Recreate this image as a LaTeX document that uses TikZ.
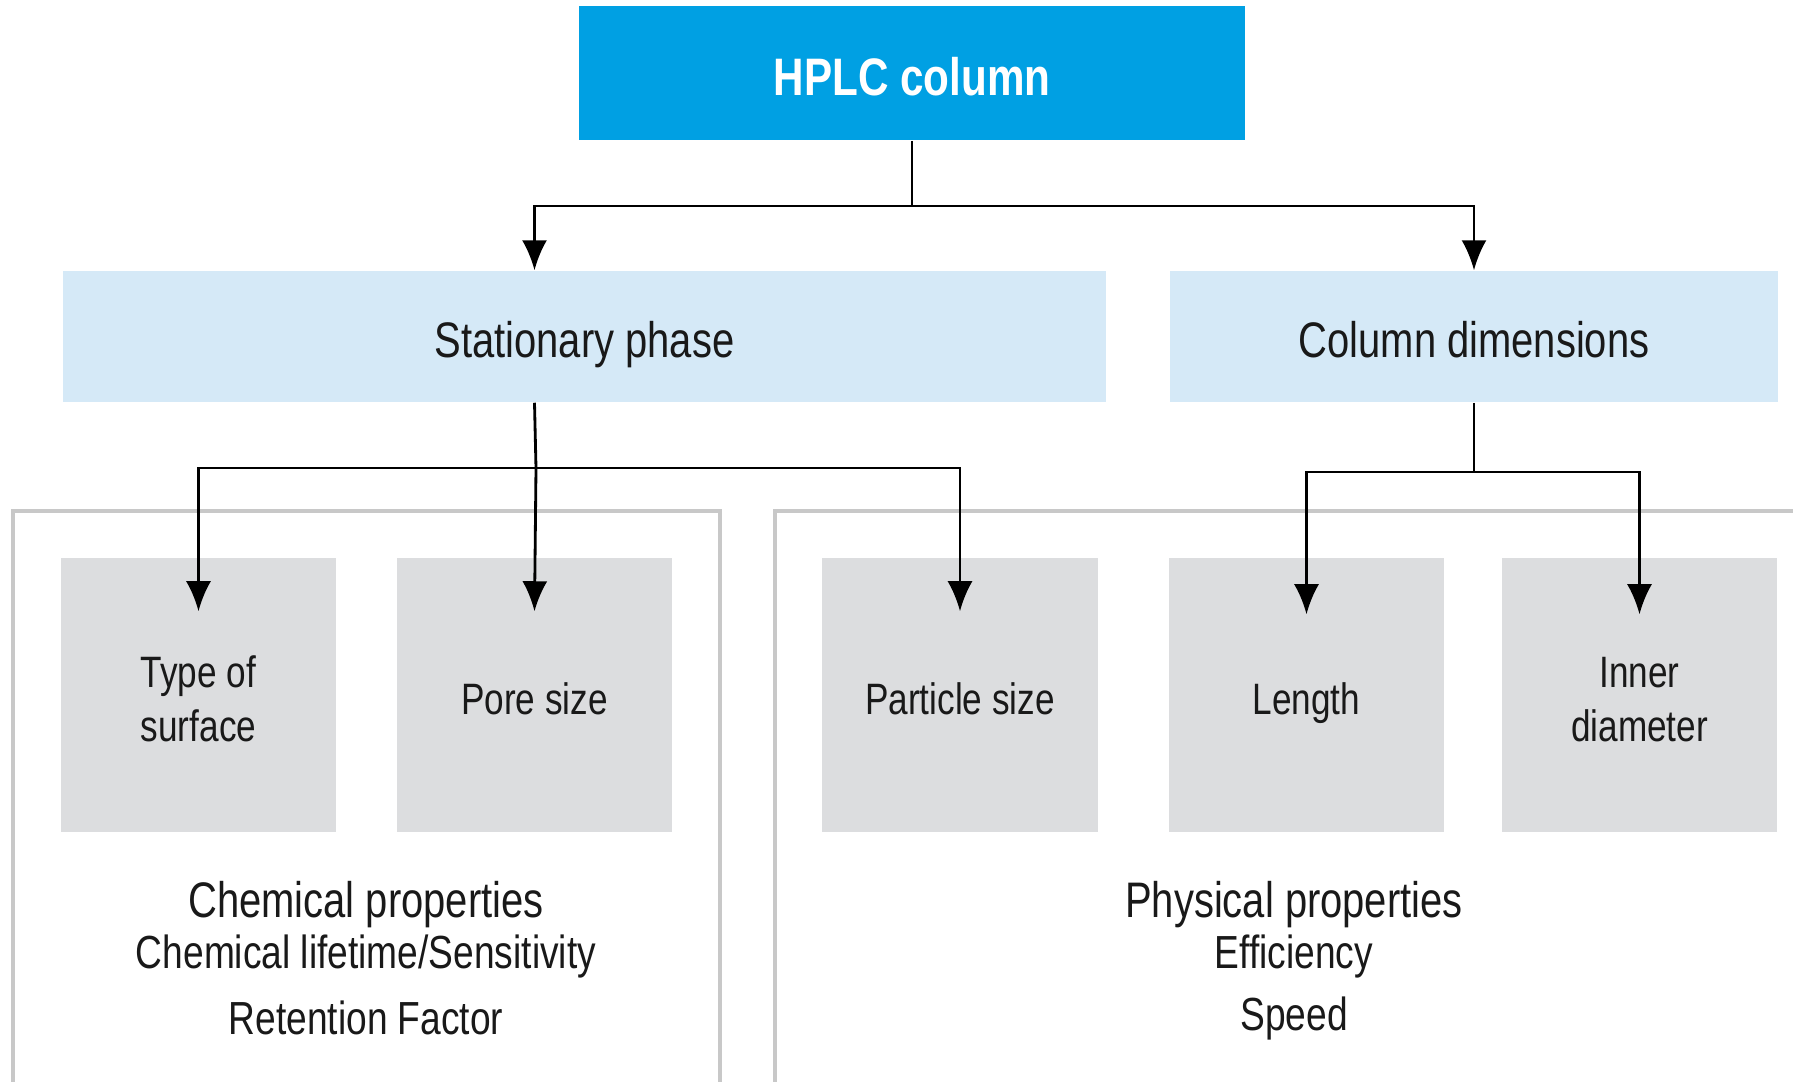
\documentclass[tikz,border=0pt]{standalone}
\usepackage{fontspec}
\setmainfont{Liberation Sans}[FakeStretch=0.8]
\usepackage{xcolor}
\usetikzlibrary{positioning,arrows.meta,calc}

\definecolor{hplcblue}{RGB}{0,160,227}
\definecolor{lightblue}{RGB}{213,233,247}
\definecolor{boxgray}{RGB}{220,221,223}
\definecolor{framegray}{RGB}{200,200,200}
\definecolor{txt}{RGB}{25,25,25}

\begin{document}
\begin{tikzpicture}[
    x=0.01cm, y=-0.01cm,
    >={Latex[length=3mm,width=2.5mm]},
    top/.style={rectangle, fill=hplcblue, text=white, minimum width=6.66cm, minimum height=1.34cm, text height=12.9pt, text depth=0pt, font=\fontsize{15}{18}\selectfont\bfseries},
    mid/.style={rectangle, fill=lightblue, text=txt, minimum height=1.31cm, text height=11.7pt, text depth=0pt, font=\fontsize{14.2}{17}\selectfont},
    leaf/.style={rectangle, fill=boxgray, text=txt, minimum width=2.75cm, minimum height=2.74cm, text height=11.1pt, text depth=0pt, align=center, font=\fontsize{12.5}{15.6}\selectfont},
    twoline/.style={text height=26.7pt, text depth=0pt},
    frame/.style={draw=framegray, line width=1pt},
    head/.style={text=txt, font=\fontsize{14.2}{17}\selectfont},
    sub/.style={text=txt, font=\fontsize{13.2}{16}\selectfont},
    arr/.style={->, line width=0.8pt}
]
\useasboundingbox (0,0) rectangle (1793,1081);

% === Outer frames ===
\draw[frame] (13,1095) -- (13,511) -- (720,511) -- (720,1095);
\draw[frame] (775,1095) -- (775,511) -- (1805,511);

% === Row 0: top ===
\node[top] (hplc) at (912,73) {HPLC column};

% === Row 1: stationary phase / column dimensions ===
\node[mid, minimum width=10.43cm] (stat) at (584.5,336.5) {Stationary phase};
\node[mid, minimum width=6.08cm] (dims) at (1474,336.5) {Column dimensions};

% === Row 2: leaf boxes ===
\node[leaf, twoline] (surf) at (198.5,695) {Type of\\surface};
\node[leaf] (pore) at (534.5,695) {Pore size};
\node[leaf] (part) at (960,695) {Particle size};
\node[leaf] (len) at (1306.5,695) {Length};
\node[leaf, twoline] (diam) at (1639.5,695) {Inner\\diameter};

% === Connectors ===
\coordinate (hsplit) at (912,206);
\draw[line width=0.8pt] (hplc.south) -- (hsplit);
\draw[arr] (hsplit) -| (stat.north -| pore.north);
\draw[arr] (hsplit) -| (dims.north);

\coordinate (ssplit) at (536,468);
\draw[line width=0.8pt] (stat.south -| pore.north) -- (ssplit);
\draw[arr] (ssplit) -| ([yshift=-5.4mm]surf.north);
\draw[arr] (ssplit) -- ([yshift=-5.4mm]pore.north);
\draw[arr] (ssplit) -| ([yshift=-5.4mm]part.north);

\coordinate (dsplit) at (1474,472);
\draw[line width=0.8pt] (dims.south) -- (dsplit);
\draw[arr] (dsplit) -| ([yshift=-5.7mm]len.north);
\draw[arr] (dsplit) -| ([yshift=-5.7mm]diam.north);

% === Bottom labels ===
\node[head] (chem) at (366,905) {Chemical properties};
\node[sub] (life) at (366,956) {Chemical lifetime/Sensitivity};
\node[sub] (ret) at (366,1018) {Retention Factor};

\node[head] (phys) at (1294,905) {Physical properties};
\node[sub] (eff) at (1294,956) {Efficiency};
\node[sub] (speed) at (1294,1018) {Speed};
\end{tikzpicture}
\end{document}
